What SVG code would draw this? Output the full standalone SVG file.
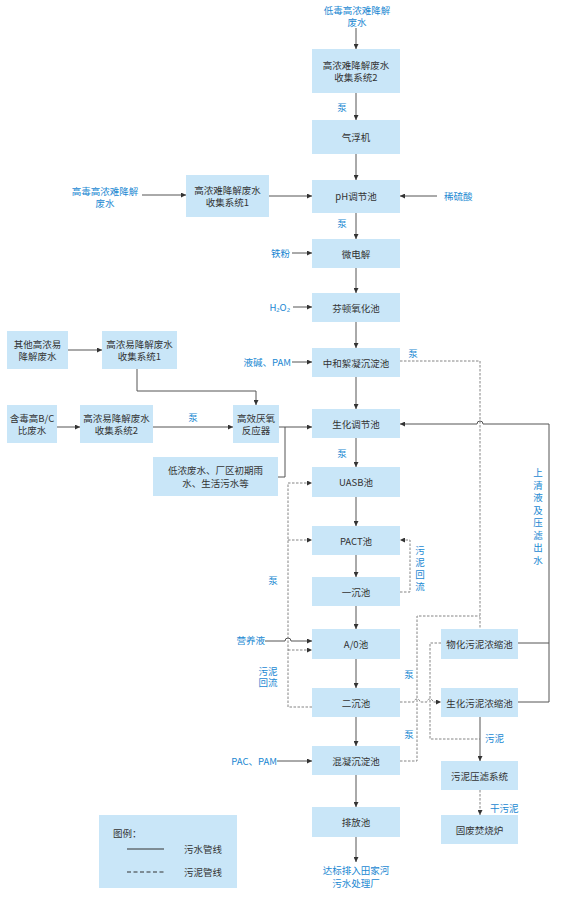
<svg xmlns="http://www.w3.org/2000/svg" width="562" height="900" viewBox="0 0 562 900">
<style>
.box{fill:#c9e6f8}
.t{font-family:"Noto Sans CJK SC","Noto Sans",sans-serif;font-size:9.5px;fill:#333;text-anchor:middle;dominant-baseline:central}
.l{fill:#1a88d2}
.s{text-anchor:start}
.e{text-anchor:end}
.ln{fill:none;stroke:#555;stroke-width:1}
.ds{fill:none;stroke:#777;stroke-width:0.9;stroke-dasharray:2.5,1.5}
</style>
<defs>
<marker id="a" markerWidth="5" markerHeight="5" refX="5" refY="2.5" orient="auto" markerUnits="userSpaceOnUse"><path d="M0,0 L5,2.5 L0,5 z" fill="#333"/></marker>
</defs>
<rect width="562" height="900" fill="#fff"/>

<g id="connectors">
<path class="ln" d="M356,28 V49" marker-end="url(#a)"/>
<path class="ln" d="M356,93 V120" marker-end="url(#a)"/>
<path class="ln" d="M356,154 V180" marker-end="url(#a)"/>
<path class="ln" d="M142,195 H186" marker-end="url(#a)"/>
<path class="ln" d="M269,196 H312" marker-end="url(#a)"/>
<path class="ln" d="M437,196 H400" marker-end="url(#a)"/>
<path class="ln" d="M356,213 V239" marker-end="url(#a)"/>
<path class="ln" d="M292,253 H312" marker-end="url(#a)"/>
<path class="ln" d="M356,268 V293" marker-end="url(#a)"/>
<path class="ln" d="M293,307 H312" marker-end="url(#a)"/>
<path class="ln" d="M356,322 V348" marker-end="url(#a)"/>
<path class="ln" d="M292,362 H312" marker-end="url(#a)"/>
<path class="ln" d="M356,377 V409" marker-end="url(#a)"/>
<path class="ln" d="M68,350 H102" marker-end="url(#a)"/>
<path class="ln" d="M137,369 V391 H256 V405" marker-end="url(#a)"/>
<path class="ln" d="M57,427 H80" marker-end="url(#a)"/>
<path class="ln" d="M153,427 H233" marker-end="url(#a)"/>
<path class="ln" d="M279,427 H312" marker-end="url(#a)"/>
<path class="ln" d="M278,477 H285 V427"/>
<path class="ln" d="M356,438 V467" marker-end="url(#a)"/>
<path class="ln" d="M356,497 V526" marker-end="url(#a)"/>
<path class="ln" d="M356,555 V577" marker-end="url(#a)"/>
<path class="ln" d="M356,606 V629" marker-end="url(#a)"/>
<path class="ln" d="M265,641 H285 A3,3 0 0 1 291,641 H312" marker-end="url(#a)"/>
<path class="ln" d="M356,659 V688" marker-end="url(#a)"/>
<path class="ln" d="M356,717 V746" marker-end="url(#a)"/>
<path class="ln" d="M277,761 H312" marker-end="url(#a)"/>
<path class="ln" d="M356,775 V807" marker-end="url(#a)"/>
<path class="ln" d="M356,837 V862" marker-end="url(#a)"/>
<path class="ln" d="M518,643 H549"/>
<path class="ln" d="M518,702 H549 V424 H483 A3,3 0 0 0 477,424 H400" marker-end="url(#a)"/>
<path class="ln" d="M480,717 V761" marker-end="url(#a)"/>
<path class="ds" d="M400,361 H480 V629"/>
<path class="ds" d="M312,707 H288 V483 H312" marker-end="url(#a)"/>
<path class="ds" d="M288,540 H312" marker-end="url(#a)"/>
<path class="ds" d="M288,650 H312" marker-end="url(#a)"/>
<path class="ds" d="M400,592 H410 V540 H400" marker-end="url(#a)"/>
<path class="ds" d="M400,761 H417 V616 H480"/>
<path class="ds" d="M400,702 H414 A3,3 0 0 1 420,702 H427 A3,3 0 0 1 433,702 H441" marker-end="url(#a)"/>
<path class="ds" d="M441,643 H430 V739 H480"/>
<path class="ds" d="M480,790 V815" marker-end="url(#a)"/>
</g>

<g id="n_b1"><rect class="box" x="312" y="49" width="88" height="44"/><text class="t" x="356" y="65">高浓难降解废水</text><text class="t" x="356" y="77">收集系统2</text></g>
<g id="n_qfj"><rect class="box" x="312" y="120" width="88" height="34"/><text class="t" x="356" y="137">气浮机</text></g>
<g id="n_ph"><rect class="box" x="312" y="180" width="88" height="33"/><text class="t" x="356" y="196">pH调节池</text></g>
<g id="n_wdj"><rect class="box" x="312" y="239" width="88" height="29"/><text class="t" x="356" y="253.5">微电解</text></g>
<g id="n_fd"><rect class="box" x="312" y="293" width="88" height="29"/><text class="t" x="356" y="307.5">芬顿氧化池</text></g>
<g id="n_zh"><rect class="box" x="312" y="348" width="88" height="29"/><text class="t" x="356" y="362.5">中和絮凝沉淀池</text></g>
<g id="n_sh"><rect class="box" x="312" y="409" width="88" height="29"/><text class="t" x="356" y="423.5">生化调节池</text></g>
<g id="n_uasb"><rect class="box" x="312" y="467" width="88" height="30"/><text class="t" x="356" y="482">UASB池</text></g>
<g id="n_pact"><rect class="box" x="312" y="526" width="88" height="29"/><text class="t" x="356" y="540.5">PACT池</text></g>
<g id="n_yc"><rect class="box" x="312" y="577" width="88" height="29"/><text class="t" x="356" y="591.5">一沉池</text></g>
<g id="n_ao"><rect class="box" x="312" y="629" width="88" height="30"/><text class="t" x="356" y="644">A/0池</text></g>
<g id="n_ec"><rect class="box" x="312" y="688" width="88" height="29"/><text class="t" x="356" y="702.5">二沉池</text></g>
<g id="n_hn"><rect class="box" x="312" y="746" width="88" height="29"/><text class="t" x="356" y="760.5">混凝沉淀池</text></g>
<g id="n_pf"><rect class="box" x="312" y="807" width="88" height="30"/><text class="t" x="356" y="822">排放池</text></g>

<g id="n_wh"><rect class="box" x="441" y="629" width="77" height="30"/><text class="t" x="479.5" y="644">物化污泥浓缩池</text></g>
<g id="n_shn"><rect class="box" x="441" y="688" width="77" height="29"/><text class="t" x="479.5" y="702.5">生化污泥浓缩池</text></g>
<g id="n_yl"><rect class="box" x="441" y="761" width="77" height="29"/><text class="t" x="479.5" y="775.5">污泥压滤系统</text></g>
<g id="n_fs"><rect class="box" x="441" y="815" width="77" height="29"/><text class="t" x="479.5" y="829.5">固废焚烧炉</text></g>

<g id="n_sj1"><rect class="box" x="186" y="175" width="83" height="42"/><text class="t" x="227.5" y="190">高浓难降解废水</text><text class="t" x="227.5" y="202">收集系统1</text></g>
<g id="n_qt"><rect class="box" x="7" y="331" width="61" height="38"/><text class="t" x="37.5" y="344">其他高浓易</text><text class="t" x="37.5" y="356">降解废水</text></g>
<g id="n_yj1"><rect class="box" x="102" y="331" width="75" height="38"/><text class="t" x="139.5" y="344">高浓易降解废水</text><text class="t" x="139.5" y="356">收集系统1</text></g>
<g id="n_hd"><rect class="box" x="7" y="405" width="50" height="38"/><text class="t" x="32" y="418">含毒高B/C</text><text class="t" x="32" y="430">比废水</text></g>
<g id="n_yj2"><rect class="box" x="80" y="405" width="73" height="38"/><text class="t" x="116.5" y="418">高浓易降解废水</text><text class="t" x="116.5" y="430">收集系统2</text></g>
<g id="n_gx"><rect class="box" x="233" y="405" width="46" height="38"/><text class="t" x="256" y="418">高效厌氧</text><text class="t" x="256" y="430">反应器</text></g>
<g id="n_dn"><rect class="box" x="153" y="457" width="125" height="39"/><text class="t" x="215.5" y="470">低浓废水、厂区初期雨</text><text class="t" x="215.5" y="483">水、生活污水等</text></g>

<g id="labels">
<text class="t l" x="357" y="10">低毒高浓难降解</text><text class="t l" x="357" y="22">废水</text>
<text class="t l" x="105" y="191">高毒高浓难降解</text><text class="t l" x="105" y="203">废水</text>
<text class="t l" x="342" y="107">泵</text>
<text class="t l" x="342" y="223">泵</text>
<text class="t l s" x="444" y="196">稀硫酸</text>
<text class="t l e" x="290" y="253">铁粉</text>
<text class="t l e" x="290" y="307">H₂O₂</text>
<text class="t l e" x="291" y="362">液碱、PAM</text>
<text class="t l" x="413" y="353">泵</text>
<text class="t l" x="193" y="417">泵</text>
<text class="t l" x="342" y="453">泵</text>
<text class="t l"><tspan x="538" y="472">上</tspan><tspan x="538" y="484.5">清</tspan><tspan x="538" y="497">液</tspan><tspan x="538" y="509.5">及</tspan><tspan x="538" y="522">压</tspan><tspan x="538" y="534.5">滤</tspan><tspan x="538" y="547">出</tspan><tspan x="538" y="559.5">水</tspan></text>
<text class="t l"><tspan x="420" y="550">污</tspan><tspan x="420" y="562">泥</tspan><tspan x="420" y="574">回</tspan><tspan x="420" y="586">流</tspan></text>
<text class="t l" x="273" y="580">泵</text>
<text class="t l e" x="265" y="640">营养液</text>
<text class="t l" x="268" y="671">污泥</text><text class="t l" x="268" y="682">回流</text>
<text class="t l" x="409" y="674">泵</text>
<text class="t l" x="409" y="734">泵</text>
<text class="t l s" x="485" y="738">污泥</text>
<text class="t l e" x="277" y="761">PAC、PAM</text>
<text class="t l s" x="490" y="808">干污泥</text>
<text class="t l" x="356" y="870">达标排入田家河</text><text class="t l" x="356" y="883">污水处理厂</text>
</g>

<g id="legend">
<rect class="box" x="99" y="815" width="138" height="73"/>
<text class="t s" x="113" y="833">图例：</text>
<path d="M127,849 H164" stroke="#333" stroke-width="1" fill="none"/>
<text class="t s" x="184" y="849">污水管线</text>
<path d="M127,872 H164" stroke="#333" stroke-width="1" fill="none" stroke-dasharray="4,2.5"/>
<text class="t s" x="184" y="872">污泥管线</text>
</g>
</svg>
